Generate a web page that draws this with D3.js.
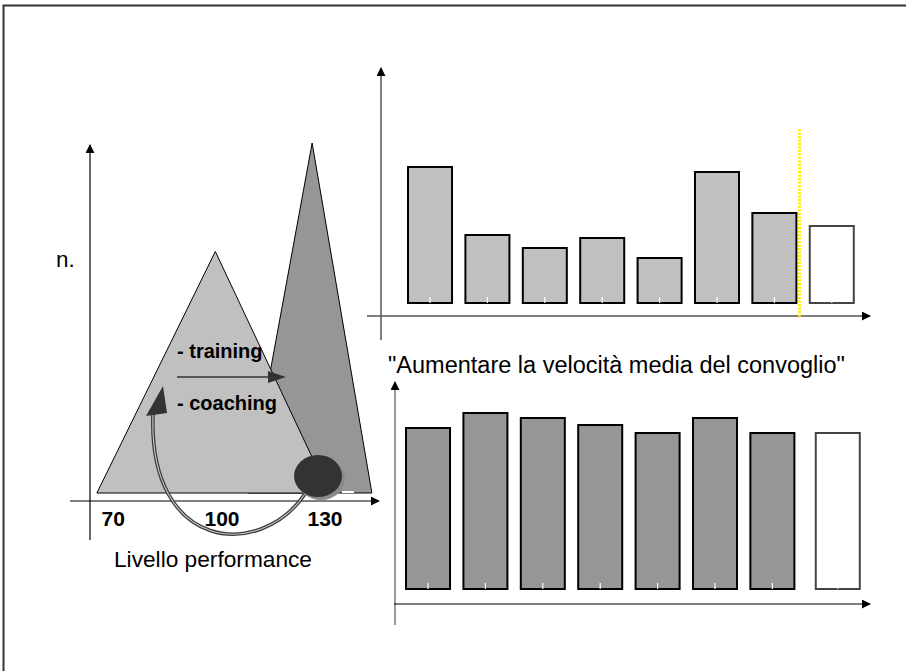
<!DOCTYPE html>
<html>
<head>
<meta charset="utf-8">
<script src="https://cdn.jsdelivr.net/npm/d3@7"></script>
<style>
  html, body { margin: 0; padding: 0; background: #fff; }
  svg { display: block; font-family: "Liberation Sans", Arial, sans-serif; }
</style>
</head>
<body>
<svg id="chart" width="906" height="671"></svg>
<script>
// Performance distributions (before / after training & coaching)
const perfTicks = [70, 100, 130];
const baseDist = [ { perf: 68.8, n: 0 }, { perf: 103.3, n: 69 }, { perf: 136.4, n: 0 } ];
const trainedDist = [ { perf: 112.8, n: 0 }, { perf: 131.5, n: 100 }, { perf: 148.9, n: 0 } ];

// Bar charts: periods, the last one is the projected value
const periods = ["1", "2", "3", "4", "5", "6", "7", "8"];
const topValues = [136, 68, 55, 65, 45, 131, 90, 77];
const bottomValues = [161, 176, 171, 164, 156, 171, 156, 156];
const projected = [false, false, false, false, false, false, false, true];

const chartTitle = "\"Aumentare la velocità media del convoglio\"";
const yLabel = "n.";
const xLabel = "Livello performance";
const actions = ["- training", "- coaching"];

const svg = d3.select("#chart");

// arrowhead marker
const defs = svg.append("defs");
defs.append("marker")
  .attr("id", "arrow")
  .attr("viewBox", "0 0 10 10")
  .attr("refX", 9).attr("refY", 5)
  .attr("markerWidth", 9).attr("markerHeight", 9)
  .attr("markerUnits", "userSpaceOnUse")
  .attr("orient", "auto")
  .append("path").attr("d", "M0,0 L10,5 L0,10 Z").attr("fill", "#000");

// page frame
svg.append("path")
  .attr("d", "M3.5,671 L3.5,5.5 L906,5.5")
  .attr("fill", "none").attr("stroke", "#333").attr("stroke-width", 2);

// ---------- left: performance distribution ----------
const xPerf = d3.scaleLinear().domain([70, 130]).range([101, 307]);
const yN = d3.scaleLinear().domain([0, 100]).range([493, 143]);

const area = d3.line().x(d => xPerf(d.perf)).y(d => yN(d.n));

svg.append("path")
  .datum(trainedDist)
  .attr("d", d => area(d) + "Z")
  .attr("fill", "#969696").attr("stroke", "#000").attr("stroke-width", 1);

svg.append("path")
  .datum(baseDist)
  .attr("d", d => area(d) + "Z")
  .attr("fill", "#c0c0c0").attr("stroke", "#000").attr("stroke-width", 1);

// axes
svg.append("line").attr("x1", 90).attr("y1", 540).attr("x2", 90).attr("y2", 145)
  .attr("stroke", "#000").attr("stroke-width", 1.2).attr("marker-end", "url(#arrow)");
svg.append("line").attr("x1", 70).attr("y1", 501).attr("x2", 379).attr("y2", 501)
  .attr("stroke", "#000").attr("stroke-width", 1.2).attr("marker-end", "url(#arrow)");

const perfAxis = svg.append("g")
  .attr("transform", "translate(0,501)")
  .call(d3.axisBottom(xPerf).tickValues(perfTicks).tickSize(0).tickPadding(10));
perfAxis.select(".domain").remove();
perfAxis.selectAll("text")
  .attr("text-anchor", "start")
  .attr("font-family", "Liberation Sans, Arial, sans-serif")
  .attr("font-size", 21).attr("font-weight", "bold").attr("fill", "#000");

svg.append("text").attr("x", 56).attr("y", 267)
  .attr("font-size", 22.5).attr("fill", "#000").text(yLabel);
svg.append("text").attr("x", 114).attr("y", 567)
  .attr("font-size", 22.7).attr("fill", "#000").text(xLabel);

// training / coaching labels and shift arrow
svg.append("text").attr("x", 177).attr("y", 358)
  .attr("font-size", 20).attr("font-weight", "bold").text(actions[0]);
svg.append("text").attr("x", 177).attr("y", 410)
  .attr("font-size", 20).attr("font-weight", "bold").text(actions[1]);
svg.append("line").attr("x1", 177).attr("y1", 377).attr("x2", 270).attr("y2", 377)
  .attr("stroke", "#555").attr("stroke-width", 2);
svg.append("path").attr("d", "M268,371 L286,377 L268,383 Z").attr("fill", "#333");

// loop-back arrow from the high performer
const loop = "M305,494 C260,560 148,552 153,414";
svg.append("path").attr("d", loop).attr("fill", "none")
  .attr("stroke", "#3a3a3a").attr("stroke-width", 3.6);
svg.append("path").attr("d", loop).attr("fill", "none")
  .attr("stroke", "#c8c8c8").attr("stroke-width", 1.1);
svg.append("path").attr("d", "M163,386 L146,416 L167,413 Z").attr("fill", "#333");

// highlighted individual
svg.append("ellipse").attr("cx", 321).attr("cy", 479).attr("rx", 24).attr("ry", 21)
  .attr("fill", "#8a8a8a");
svg.append("ellipse").attr("cx", 318).attr("cy", 476).attr("rx", 24).attr("ry", 21)
  .attr("fill", "#333");
svg.append("line").attr("x1", 342).attr("y1", 492).attr("x2", 354).attr("y2", 492)
  .attr("stroke", "#fff").attr("stroke-width", 2);

// ---------- bar charts ----------
function barChart(values, yScale, base, fill, xRange, gapLast) {
  const x = d3.scaleBand().domain(periods).range(xRange).paddingInner(0.233).paddingOuter(0.117);
  const g = svg.append("g");
  const shift = (d, i) => (projected[i] ? gapLast : 0);
  g.selectAll("rect")
    .data(values)
    .join("rect")
    .attr("x", (d, i) => x(periods[i]) + shift(d, i))
    .attr("y", d => yScale(d))
    .attr("width", x.bandwidth())
    .attr("height", d => base - yScale(d))
    .attr("fill", (d, i) => projected[i] ? "#fff" : fill)
    .attr("stroke", (d, i) => projected[i] ? "#444" : "#000")
    .attr("stroke-width", 2);
  // small white ticks at the foot of each bar
  g.selectAll("line.tick")
    .data(values)
    .join("line")
    .attr("class", "tick")
    .attr("x1", (d, i) => x(periods[i]) + shift(d, i) + x.bandwidth() / 2)
    .attr("x2", (d, i) => x(periods[i]) + shift(d, i) + x.bandwidth() / 2)
    .attr("y1", base - 6).attr("y2", base)
    .attr("stroke", "#fff").attr("stroke-width", 1.2);
  return x;
}

// top chart
const yTop = d3.scaleLinear().domain([0, 150]).range([303, 153]);
const xTop = barChart(topValues, yTop, 303, "#c0c0c0", [401.3, 860.5], 0);
svg.append("line").attr("x1", 381).attr("y1", 340).attr("x2", 381).attr("y2", 68)
  .attr("stroke", "#555").attr("stroke-width", 1.5).attr("marker-end", "url(#arrow)");
svg.append("line").attr("x1", 367).attr("y1", 316).attr("x2", 870).attr("y2", 316)
  .attr("stroke", "#555").attr("stroke-width", 1.5).attr("marker-end", "url(#arrow)");
// boundary between actual and projected periods
const splitX = Math.round((xTop(periods[6]) + xTop.bandwidth() + xTop(periods[7])) / 2 - 4) + 0.5;
svg.append("line").attr("x1", splitX).attr("y1", 129).attr("x2", splitX).attr("y2", 318)
  .attr("stroke", "#ffee00").attr("stroke-width", 3).attr("stroke-dasharray", "2,1.5");

svg.append("text").attr("x", 388).attr("y", 373)
  .attr("font-size", 23.5).attr("fill", "#000").text(chartTitle);

// bottom chart
const yBot = d3.scaleLinear().domain([0, 180]).range([589, 409]);
barChart(bottomValues, yBot, 589, "#969696", [399.3, 858.5], 8);
svg.append("line").attr("x1", 395).attr("y1", 625).attr("x2", 395).attr("y2", 382)
  .attr("stroke", "#555").attr("stroke-width", 1.2).attr("marker-end", "url(#arrow)");
svg.append("line").attr("x1", 394).attr("y1", 604).attr("x2", 870).attr("y2", 604)
  .attr("stroke", "#000").attr("stroke-width", 1.2).attr("marker-end", "url(#arrow)");
</script>
</body>
</html>
